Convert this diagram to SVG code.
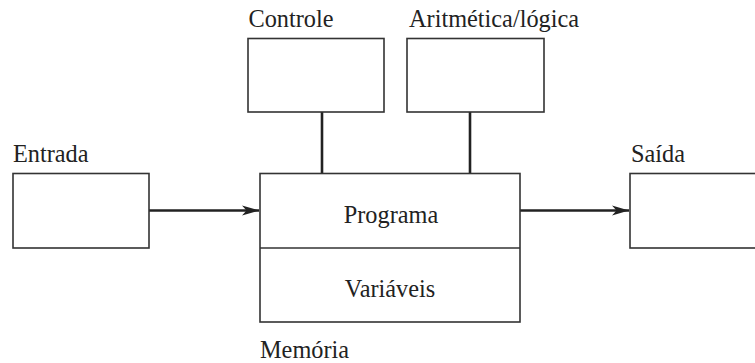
<svg xmlns="http://www.w3.org/2000/svg" width="755" height="363" viewBox="0 0 755 363">
<style>
.box{fill:#fff;stroke:#333;stroke-width:1.6}
.lbl{font-family:"Liberation Serif","Times New Roman",serif;font-size:24.3px;fill:#222}
.conn{stroke:#222;stroke-width:2.6;fill:none}
</style>
<defs>
<marker id="arr" markerWidth="18" markerHeight="12" refX="17" refY="6" orient="auto" markerUnits="userSpaceOnUse">
<path d="M0,1 L17,6 L0,11 L4.5,6 Z" fill="#222"/>
</marker>
</defs>
<rect width="755" height="363" fill="#fff"/>
<g id="connectors">
<line class="conn" x1="149" y1="210.5" x2="259" y2="210.5" marker-end="url(#arr)"/>
<line class="conn" x1="520" y1="210.5" x2="629" y2="210.5" marker-end="url(#arr)"/>
<line class="conn" x1="322" y1="112" x2="322" y2="174"/>
<line class="conn" x1="470" y1="112" x2="470" y2="174"/>
</g>
<g id="controle">
<rect class="box" x="248" y="38.5" width="136" height="73.5"/>
<text class="lbl" x="248.5" y="27">Controle</text>
</g>
<g id="aritmetica">
<rect class="box" x="407" y="38.5" width="137" height="73.5"/>
<text class="lbl" x="409" y="27">Aritmética/lógica</text>
</g>
<g id="entrada">
<rect class="box" x="13" y="173.5" width="136" height="74.5"/>
<text class="lbl" x="13" y="162">Entrada</text>
</g>
<g id="saida">
<rect class="box" x="630" y="173.5" width="140" height="74.5"/>
<text class="lbl" x="631" y="162">Saída</text>
</g>
<g id="memoria">
<rect class="box" x="260" y="173.5" width="260" height="148.5"/>
<line class="box" x1="260" y1="248" x2="520" y2="248"/>
<text class="lbl" x="391" y="223" text-anchor="middle">Programa</text>
<text class="lbl" x="390" y="297" text-anchor="middle">Variáveis</text>
<text class="lbl" x="260" y="358">Memória</text>
</g>
</svg>
